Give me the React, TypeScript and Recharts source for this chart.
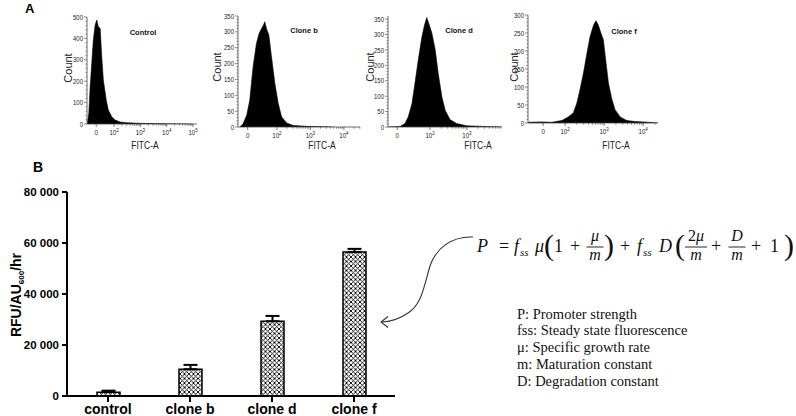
import React from 'react';
import { BarChart, Bar, XAxis, YAxis, ErrorBar, AreaChart, Area } from 'recharts';

// ---------- Panel B data ----------
const groups = ['control', 'clone b', 'clone d', 'clone f'];
const rfuValues = [1500, 10500, 29300, 56500];
const rfuErrors = [600, 1700, 2100, 1200];
const rfuTicks = [0, 20000, 40000, 60000, 80000];

// ---------- Panel A histograms (x = display position in decades, y = count) ----------
const controlPos = [0.98, 1.04, 1.09, 1.15, 1.21, 1.28, 1.34, 1.40, 1.47, 1.53, 1.59, 1.70, 1.78, 1.91, 2.04, 2.23, 2.48, 2.99, 3.98, 5.0];
const controlCounts = [0, 50, 174, 283, 392, 463, 486, 455, 447, 315, 206, 112, 65, 34, 19, 9, 6, 3, 1, 0];
const controlTicks = [1.32, 2, 3, 4, 5];
const controlTickLabels = ['0', '10^2', '10^3', '10^4', '10^5'];
const controlYTicks = [0, 100, 200, 300, 400, 500];

const cloneBPos = [0.9, 0.99, 1.1, 1.19, 1.29, 1.39, 1.47, 1.54, 1.6, 1.64, 1.69, 1.76, 1.84, 1.94, 2.04, 2.14, 2.29, 2.48, 2.89, 3.67];
const cloneBCounts = [0, 10, 37, 84, 190, 263, 295, 310, 322, 332, 310, 290, 221, 137, 74, 32, 13, 5, 2, 0];
const cloneBTicks = [1.13, 2, 3, 4];
const cloneBTickLabels = ['0', '10^2', '10^3', '10^4'];
const cloneBYTicks = [0, 50, 100, 150, 200, 250, 300, 350];

const cloneDPos = [0.87, 1.19, 1.32, 1.41, 1.51, 1.59, 1.68, 1.78, 1.85, 1.91, 1.98, 2.05, 2.14, 2.22, 2.32, 2.41, 2.54, 2.72, 2.99, 3.43, 3.94];
const cloneDCounts = [0, 2, 11, 33, 76, 141, 217, 293, 331, 355, 331, 304, 250, 174, 98, 54, 24, 11, 4, 2, 0];
const cloneDTicks = [1.11, 2, 3];
const cloneDTickLabels = ['0', '10^2', '10^3'];
const cloneDYTicks = [0, 50, 100, 150, 200, 250, 300, 350];

const cloneFPos = [1.06, 1.4, 1.66, 1.92, 2.08, 2.21, 2.3, 2.38, 2.47, 2.56, 2.64, 2.73, 2.79, 2.85, 2.92, 2.98, 3.04, 3.11, 3.2, 3.28, 3.41, 3.58, 3.79, 4.14, 4.38];
const cloneFCounts = [2, 3, 2, 7, 17, 28, 55, 92, 138, 194, 240, 272, 284, 272, 249, 231, 175, 111, 65, 37, 17, 7, 4, 2, 0];
const cloneFTicks = [1.44, 2, 3, 4];
const cloneFTickLabels = ['0', '10^2', '10^3', '10^4'];
const cloneFYTicks = [0, 50, 100, 150, 200, 250, 300];

const legendLines = [
  'P: Promoter strength',
  'fss: Steady state fluorescence',
  'μ:  Specific growth rate',
  'm: Maturation constant',
  'D: Degradation constant',
];

const SANS = "'Liberation Sans', Arial, sans-serif";
const NARROW = "'Liberation Sans Narrow', 'Arial Narrow', 'Liberation Sans', Arial, sans-serif";
const SERIF = "'Liberation Serif', 'Times New Roman', serif";

const fmtThousands = (v: number) => (v === 0 ? '0' : String(v).replace(/\B(?=(\d{3})+(?!\d))/g, ' '));

function HistXTick(props: any) {
  const { x, y, payload, majors, labels } = props;
  const idx = majors.indexOf(payload.value);
  const ay = y - 4;
  if (idx < 0) {
    return <line x1={x} x2={x} y1={ay} y2={ay + 1.8} stroke="#444" strokeWidth={0.6} />;
  }
  const [base, exp] = String(labels[idx]).split('^');
  return (
    <g>
      <line x1={x} x2={x} y1={ay} y2={ay + 3} stroke="#444" strokeWidth={0.7} />
      <text transform={`translate(${x},${ay + 11}) scale(0.82,1)`} textAnchor="middle" fontSize={7.5} fill="#222" fontFamily={NARROW}>
        {base}
        {exp ? (
          <tspan dy={-3} fontSize={5.5}>
            {exp}
          </tspan>
        ) : null}
      </text>
    </g>
  );
}

function HistYTick(props: any) {
  const { x, y, payload, majors } = props;
  const isMajor = majors.indexOf(payload.value) >= 0;
  const ax = x + 4;
  return (
    <g>
      <line x1={ax - (isMajor ? 3 : 1.5)} x2={ax} y1={y} y2={y} stroke="#444" strokeWidth={0.6} />
      {isMajor ? (
        <text transform={`translate(${ax - 4},${y + 2.6}) scale(0.8,1)`} textAnchor="end" fontSize={7.5} fill="#222" fontFamily={NARROW}>
          {payload.value}
        </text>
      ) : null}
    </g>
  );
}

type HistProps = {
  pos: number[];
  counts: number[];
  xTicks: number[];
  xLabels: string[];
  xDomain: [number, number];
  yMajor: number[];
  yMinorStep: number;
  yMax: number;
  axisX: number;
  xEnd: number;
  yTop: number;
  yZero: number;
};

function Histogram(p: HistProps) {
  const data = p.pos.map((d, i) => ({ d, c: p.counts[i] }));
  const left = p.axisX - 30;
  const rightM = 8;
  const width = p.xEnd - left + rightM;
  const height = p.yZero + 16;
  const minorX: number[] = [];
  for (let k = 2; k <= 5; k++) {
    for (let m = 2; m <= 9; m++) {
      const v = k + Math.log10(m);
      if (v < p.xDomain[1]) minorX.push(v);
    }
  }
  const xAll = [...p.xTicks, ...minorX].sort((a, b) => a - b);
  const yAll: number[] = [];
  const yLast = p.yMajor[p.yMajor.length - 1];
  for (let v = 0; v <= yLast; v += p.yMinorStep) yAll.push(v);
  return (
    <div style={{ position: 'absolute', left, top: 0 }}>
      <AreaChart width={width} height={height} data={data} margin={{ top: p.yTop, right: rightM, bottom: 0, left: 0 }}>
        <XAxis
          dataKey="d"
          type="number"
          domain={p.xDomain}
          ticks={xAll}
          interval={0}
          height={16}
          tickSize={3}
          tickMargin={1}
          allowDataOverflow
          axisLine={{ stroke: '#444', strokeWidth: 0.8 }}
          tickLine={false}
          tick={(tp: any) => <HistXTick {...tp} majors={p.xTicks} labels={p.xLabels} />}
        />
        <YAxis
          type="number"
          domain={[0, p.yMax]}
          ticks={yAll}
          interval={0}
          width={30}
          tickSize={3}
          tickMargin={1}
          allowDataOverflow
          axisLine={{ stroke: '#444', strokeWidth: 0.8 }}
          tickLine={false}
          tick={(tp: any) => <HistYTick {...tp} majors={p.yMajor} />}
        />
        <Area
          type="linear"
          dataKey="c"
          stroke="#000"
          strokeWidth={0.6}
          fill="#000"
          fillOpacity={1}
          isAnimationActive={false}
          dot={false}
          activeDot={false}
        />
      </AreaChart>
    </div>
  );
}

function Formula() {
  const C = 247; // fraction-bar / math axis
  const MB = 252; // main baseline
  const NB = C - 6; // numerator baseline
  const DB = C + 13; // denominator baseline
  const fs = 18;
  const ffs = 16;
  const it = { fontStyle: 'italic' as const };
  const T = (x: number, s: string, opts: any = {}) => (
    <text x={x} y={opts.y ?? MB} fontSize={opts.fs ?? fs} fontFamily={SERIF} fill="#111" textAnchor={opts.anchor ?? 'start'} style={opts.italic ? it : undefined}>
      {s}
    </text>
  );
  const Frac = (cx: number, w: number, num: any, den: any) => (
    <g>
      <text x={cx} y={NB} fontSize={ffs} fontFamily={SERIF} fill="#111" textAnchor="middle">
        {num}
      </text>
      <line x1={cx - w / 2} x2={cx + w / 2} y1={C} y2={C} stroke="#111" strokeWidth={0.9} />
      <text x={cx} y={DB} fontSize={ffs} fontFamily={SERIF} fill="#111" textAnchor="middle">
        {den}
      </text>
    </g>
  );
  const PB = C + 8; // big paren baseline
  return (
    <g>
      {T(477, 'P', { italic: true })}
      {T(499, '=')}
      {T(514, 'f', { italic: true })}
      {T(520, 'ss', { italic: true, fs: 11, y: MB + 4 })}
      {T(535, 'μ', { italic: true })}
      {T(544, '(', { fs: 30, y: PB })}
      {T(554, '1')}
      {T(570, '+')}
      {Frac(595, 17, <tspan fontStyle="italic">μ</tspan>, <tspan fontStyle="italic">m</tspan>)}
      {T(604, ')', { fs: 30, y: PB })}
      {T(620, '+')}
      {T(637, 'f', { italic: true })}
      {T(643, 'ss', { italic: true, fs: 11, y: MB + 4 })}
      {T(659, 'D', { italic: true })}
      {T(675, '(', { fs: 30, y: PB })}
      {Frac(696, 22, <tspan>2<tspan fontStyle="italic">μ</tspan></tspan>, <tspan fontStyle="italic">m</tspan>)}
      {T(711, '+')}
      {Frac(737, 17, <tspan fontStyle="italic">D</tspan>, <tspan fontStyle="italic">m</tspan>)}
      {T(751, '+')}
      {T(770, '1')}
      {T(784, ')', { fs: 30, y: PB })}
    </g>
  );
}

export default function App() {
  const barData = groups.map((g, i) => ({ name: g, value: rfuValues[i], err: [0, rfuErrors[i]] }));
  const countLabels = [
    { x: 72, y: 68 },
    { x: 221, y: 67 },
    { x: 374, y: 67 },
    { x: 518, y: 67 },
  ];
  const titles = [
    { x: 143, y: 35, t: 'Control' },
    { x: 304, y: 33, t: 'Clone b' },
    { x: 459, y: 33, t: 'Clone d' },
    { x: 624, y: 34, t: 'Clone f' },
  ];
  const fitcX = [145, 322, 478, 616];
  return (
    <div style={{ position: 'absolute', left: 0, top: 0, width: 796, height: 416, background: '#fff', overflow: 'hidden' }}>
      <svg width={0} height={0} style={{ position: 'absolute' }}>
        <defs>
          <pattern id="xhatch" patternUnits="userSpaceOnUse" width={4.5} height={4.5}>
            <rect width={4.5} height={4.5} fill="#fff" />
            <path d="M0,0 L4.5,4.5 M4.5,0 L0,4.5" stroke="#000" strokeWidth={0.9} />
          </pattern>
        </defs>
      </svg>

      <Histogram pos={controlPos} counts={controlCounts} xTicks={controlTicks} xLabels={controlTickLabels} xDomain={[0.97, 5.15]} yMajor={controlYTicks} yMinorStep={20} yMax={500} axisX={87} xEnd={197} yTop={17} yZero={124} />
      <Histogram pos={cloneBPos} counts={cloneBCounts} xTicks={cloneBTicks} xLabels={cloneBTickLabels} xDomain={[0.84, 4.48]} yMajor={cloneBYTicks} yMinorStep={10} yMax={350} axisX={238} xEnd={360} yTop={16} yZero={127} />
      <Histogram pos={cloneDPos} counts={cloneDCounts} xTicks={cloneDTicks} xLabels={cloneDTickLabels} xDomain={[0.86, 3.95]} yMajor={cloneDYTicks} yMinorStep={10} yMax={360} axisX={388} xEnd={502} yTop={16} yZero={127} />
      <Histogram pos={cloneFPos} counts={cloneFCounts} xTicks={cloneFTicks} xLabels={cloneFTickLabels} xDomain={[1.05, 4.38]} yMajor={cloneFYTicks} yMinorStep={10} yMax={300} axisX={528} xEnd={658} yTop={15} yZero={123} />

      <div style={{ position: 'absolute', left: 0, top: 140 }}>
        <BarChart width={402} height={276} data={barData} margin={{ top: 52, right: 7, bottom: 0, left: 0 }}>
          <XAxis
            dataKey="name"
            height={20}
            tickSize={6}
            tickMargin={2}
            interval={0}
            axisLine={{ stroke: '#000', strokeWidth: 2 }}
            tickLine={{ stroke: '#000', strokeWidth: 2 }}
            tick={{ fill: '#000', fontSize: 14, fontWeight: 700, fontFamily: SANS }}
          />
          <YAxis
            width={67}
            domain={[0, 80000]}
            ticks={rfuTicks}
            interval={0}
            tickFormatter={fmtThousands}
            tickSize={5}
            tickMargin={3}
            axisLine={{ stroke: '#000', strokeWidth: 2 }}
            tickLine={{ stroke: '#000', strokeWidth: 2 }}
            tick={{ fill: '#000', fontSize: 11.5, fontWeight: 700, fontFamily: SANS }}
          />
          <Bar dataKey="value" fill="url(#xhatch)" stroke="#000" strokeWidth={1.5} barSize={23} isAnimationActive={false}>
            <ErrorBar dataKey="err" width={7} strokeWidth={2} stroke="#000" direction="y" />
          </Bar>
        </BarChart>
      </div>

      <svg width={796} height={416} style={{ position: 'absolute', left: 0, top: 0, pointerEvents: 'none' }}>
        <text x={25} y={13} fontSize={13} fontWeight={700} fontFamily={SANS} fill="#000">A</text>
        <text x={33} y={172} fontSize={14} fontWeight={700} fontFamily={SANS} fill="#000">B</text>

        {countLabels.map((c, i) => (
          <text key={i} transform={`translate(${c.x},${c.y}) rotate(-90)`} textAnchor="middle" fontSize={11} fontFamily={SANS} fill="#222">
            Count
          </text>
        ))}
        {titles.map((t, i) => (
          <text key={i} x={t.x} y={t.y} textAnchor="middle" fontSize={7.5} fontWeight={700} fontFamily={SANS} fill="#111">
            {t.t}
          </text>
        ))}
        {fitcX.map((x, i) => (
          <text key={i} transform={`translate(${x},149) scale(0.85,1)`} textAnchor="middle" fontSize={10} fontFamily={NARROW} fill="#222">
            FITC-A
          </text>
        ))}

        <text transform="translate(21,295) rotate(-90)" textAnchor="middle" fontSize={14} fontWeight={700} fontFamily={SANS} fill="#000">
          RFU/AU<tspan fontSize={8} dy={3}>600</tspan>
          <tspan dy={-3}>/hr</tspan>
        </text>

        <Formula />

        <path d="M473,237 C452,236 436,248 430,266 C424,286 422,304 408,313 C398,320 390,322 381,322" fill="none" stroke="#333" strokeWidth={1.1} />
        <path d="M388,316.5 L381,322 L388,327.5" fill="none" stroke="#333" strokeWidth={1.1} />

        {legendLines.map((l, i) => (
          <text key={i} x={517} y={318.5 + i * 16.75} fontSize={14.5} fontFamily={SERIF} fill="#111">
            {l}
          </text>
        ))}
      </svg>
    </div>
  );
}
